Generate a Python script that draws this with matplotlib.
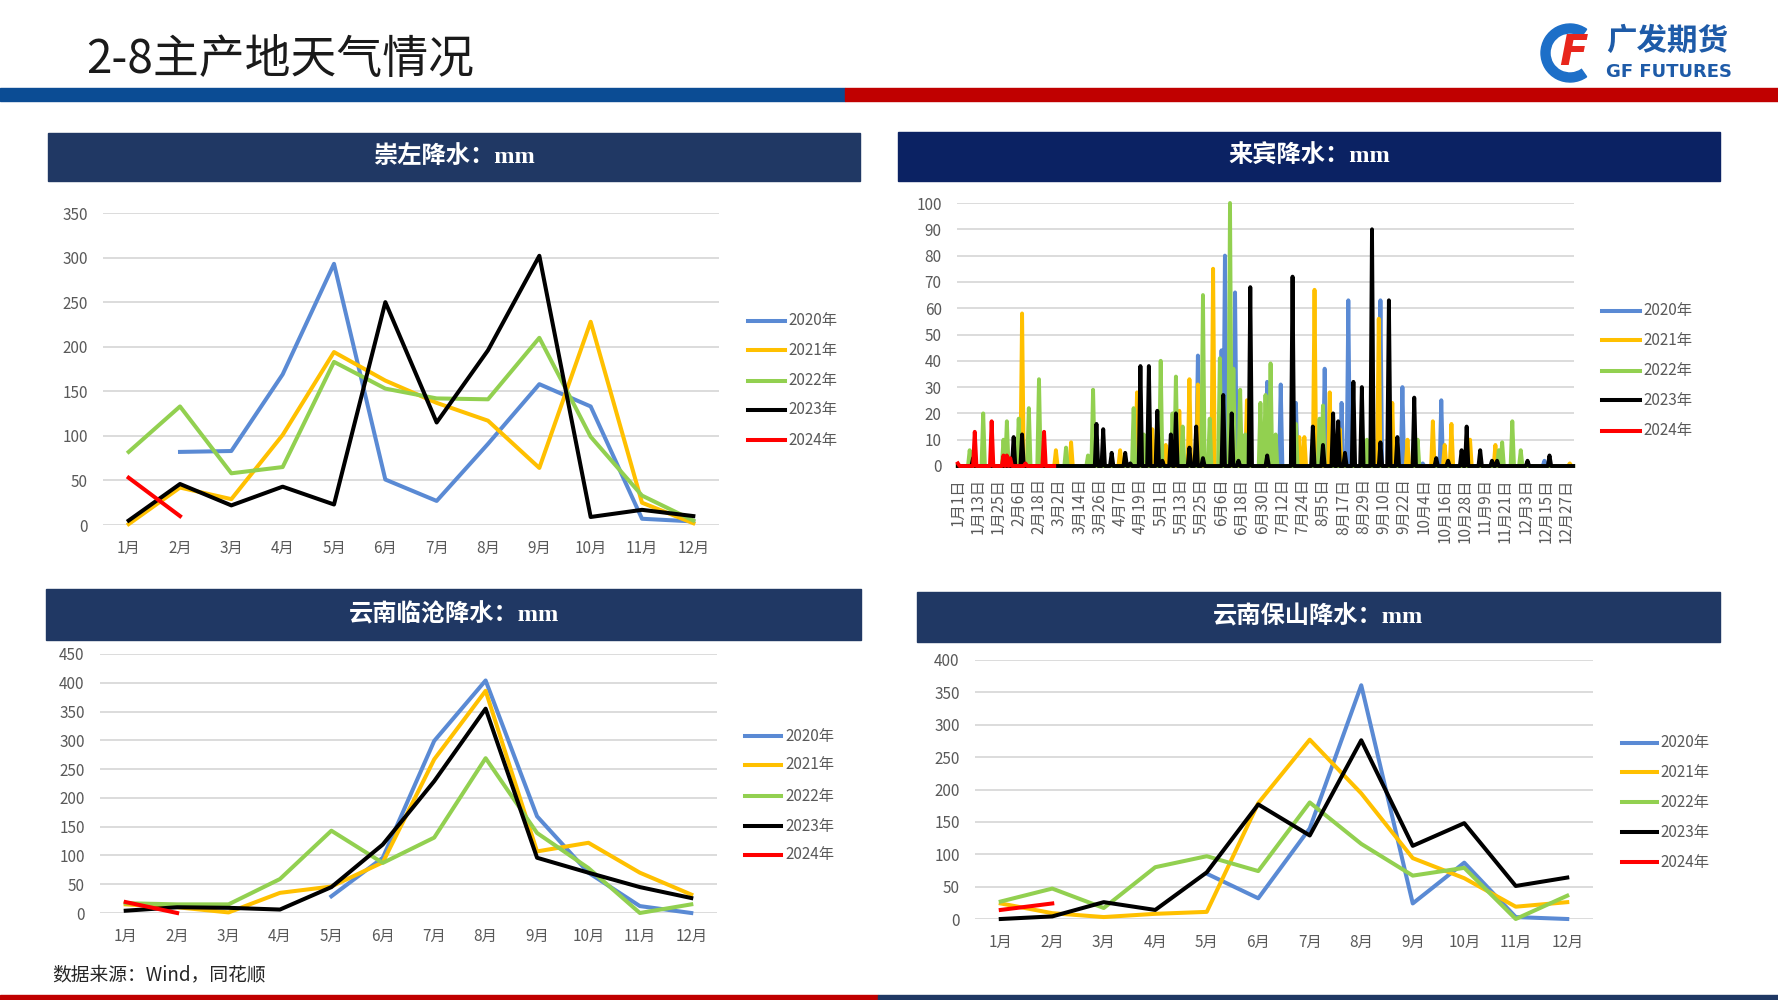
import numpy as np
import matplotlib
matplotlib.use('Agg')
import matplotlib.pyplot as plt
from matplotlib.lines import Line2D
from matplotlib.patches import Rectangle, Wedge

plt.rcParams['font.family'] = ['Noto Sans CJK SC', 'DejaVu Sans']

W, H = 1778, 1000
nan = np.nan

# ---- data ----
years = ['2020年', '2021年', '2022年', '2023年', '2024年']
colors = ['#5A8AD4', '#FFC000', '#92D050', '#000000', '#FF0000']
months = ['1月', '2月', '3月', '4月', '5月', '6月', '7月', '8月', '9月', '10月', '11月', '12月']

# 崇左 monthly (mm)
chongzuo_2020 = [nan, 82, 83, 169, 293, 51, 27, 91, 158, 133, 7, 4]
chongzuo_2021 = [1, 42, 29, 101, 194, 162, 137, 117, 64, 228, 25, 2]
chongzuo_2022 = [82, 133, 58, 65, 183, 153, 142, 141, 210, 99, 33, 5]
chongzuo_2023 = [5, 46, 22, 43, 23, 250, 115, 196, 302, 9, 17, 10]
chongzuo_2024 = [53, 10]

# 云南临沧 monthly (mm)
lincang_2020 = [nan, nan, nan, nan, 29, 96, 299, 404, 168, 70, 12, 0]
lincang_2021 = [15, 10, 1, 35, 46, 88, 267, 386, 107, 122, 70, 32]
lincang_2022 = [17, 15, 15, 59, 143, 87, 131, 269, 139, 78, 0, 15]
lincang_2023 = [4, 10, 9, 6, 45, 119, 229, 355, 96, 70, 45, 26]
lincang_2024 = [19, 0]

# 云南保山 monthly (mm)
baoshan_2020 = [nan, nan, nan, nan, 70, 32, 140, 361, 24, 87, 3, 0]
baoshan_2021 = [24, 9, 3, 8, 11, 179, 277, 194, 94, 63, 19, 26]
baoshan_2022 = [27, 47, 17, 80, 97, 74, 180, 116, 67, 79, 0, 36]
baoshan_2023 = [0, 4, 26, 14, 72, 177, 129, 276, 113, 148, 51, 64]
baoshan_2024 = [14, 24]

# 来宾 daily (mm): rainy days as (day of year, value), all other days 0
day_labels = ['1月1日', '1月13日', '1月25日', '2月6日', '2月18日', '3月2日', '3月14日',
              '3月26日', '4月7日', '4月19日', '5月1日', '5月13日', '5月25日', '6月6日',
              '6月18日', '6月30日', '7月12日', '7月24日', '8月5日', '8月17日', '8月29日',
              '9月10日', '9月22日', '10月4日', '10月16日', '10月28日', '11月9日',
              '11月21日', '12月3日', '12月15日', '12月27日']
n_days = 365
n_days_2024 = 58
laibin_2020 = [(142, 42), (156, 44), (158, 80), (164, 66), (183, 32), (191, 31), (200, 24),
               (217, 37), (227, 24), (231, 63), (250, 63), (263, 30), (275, 1), (286, 25),
               (347, 2)]
laibin_2021 = [(38, 58), (58, 6), (67, 9), (96, 6), (106, 28), (115, 14), (123, 8), (131, 21),
               (137, 33), (142, 31), (151, 75), (171, 25), (202, 11), (205, 11), (211, 67),
               (220, 28), (226, 14), (249, 56), (257, 24), (266, 10), (281, 17), (288, 8),
               (292, 16), (303, 10), (318, 8), (362, 1)]
laibin_2022 = [(7, 6), (15, 20), (27, 10), (29, 17), (36, 18), (42, 22), (48, 33), (64, 7),
               (77, 4), (80, 29), (104, 22), (110, 12), (120, 40), (127, 20), (129, 34),
               (133, 15), (145, 65), (149, 18), (155, 41), (161, 100), (163, 37), (167, 29),
               (170, 12), (179, 24), (182, 27), (185, 39), (188, 12), (200, 16), (214, 18),
               (216, 23), (242, 10), (272, 10), (320, 6), (322, 9), (328, 17), (333, 6)]
laibin_2023 = [(9, 3), (33, 11), (38, 12), (82, 16), (86, 14), (91, 5), (99, 5), (102, 1),
               (108, 38), (113, 38), (118, 21), (121, 2), (126, 12), (129, 20), (137, 7),
               (141, 15), (145, 3), (157, 27), (162, 20), (166, 2), (173, 68), (183, 4),
               (198, 72), (210, 15), (216, 8), (222, 20), (225, 17), (229, 5), (234, 32),
               (239, 30), (245, 90), (250, 9), (255, 63), (260, 11), (270, 26), (283, 3),
               (290, 2), (298, 6), (301, 15), (309, 6), (316, 2), (319, 2), (337, 2), (350, 4)]
laibin_2024 = [(0, 1), (10, 13), (20, 17), (27, 4), (29, 4), (31, 3), (40, 1), (51, 13)]


def daily(peaks, n):
    v = np.zeros(n)
    for d, val in peaks:
        v[d] = val
    return v


TICK = '#595959'
GRID = '#D9D9D9'


def px_rect(x0, y0, x1, y1):
    return [x0 / W, 1 - y1 / H, (x1 - x0) / W, (y1 - y0) / H]


fig = plt.figure(figsize=(W / 100, H / 100), dpi=100)


def bar(x0, y0, x1, y1, color):
    fig.patches.append(Rectangle((x0 / W, 1 - y1 / H), (x1 - x0) / W, (y1 - y0) / H,
                                 transform=fig.transFigure, color=color, zorder=0))


def panel_title(x0, y0, x1, y1, text, color):
    bar(x0, y0, x1, y1, color)
    fig.text((x0 + x1) / 2 / W, 1 - (y0 + y1) / 2 / H, text, color='white', fontsize=17.5,
             fontweight='bold', ha='center', va='center',
             family=['Liberation Serif', 'Noto Sans CJK SC'])


def legend(lx0, lx1, tx, ys):
    for lab, c, y in zip(years, colors, ys):
        fig.add_artist(Line2D([lx0 / W, lx1 / W], [1 - y / H] * 2, color=c, lw=2.9,
                              transform=fig.transFigure))
        fig.text(tx / W, 1 - y / H, lab, fontsize=11, color=TICK, ha='left', va='center')


def style(ax, ymax, step):
    ax.set_ylim(0, ymax)
    ax.set_yticks(np.arange(0, ymax + 1, step))
    ax.yaxis.grid(True, color=GRID, lw=1.3)
    ax.set_axisbelow(True)
    for s in ax.spines.values():
        s.set_visible(False)
    ax.tick_params(axis='both', length=0, labelsize=11, colors=TICK)
    ax.tick_params(axis='y', pad=11)


def monthly(box, series, ymax, step):
    ax = fig.add_axes(px_rect(*box))
    for vals, c in zip(series, colors):
        ax.plot(np.arange(len(vals)), vals, color=c, lw=2.9, clip_on=False,
                solid_joinstyle='round')
    ax.set_xlim(-0.5, 11.5)
    ax.set_xticks(np.arange(12), months)
    style(ax, ymax, step)
    ax.tick_params(axis='x', pad=11)
    return ax


# ---- header ----
fig.text(86 / W, 1 - 60 / H, '2-8主产地天气情况', fontsize=33, color='#1A1A1A',
         ha='left', va='center')
bar(0, 88, 845, 101, '#0B4C94')
bar(845, 88, W, 101, '#C00000')

# logo
lax = fig.add_axes(px_rect(1536, 22, 1604, 84))
lax.set_xlim(0, 68)
lax.set_ylim(0, 62)
lax.set_aspect('equal')
lax.axis('off')
lax.add_patch(Wedge((34, 31), 29, 55, 305, width=9, color='#1D6FC8'))
lax.text(37, 31, 'F', color='#E8261C', fontsize=30, fontweight='bold', style='italic',
         ha='center', va='center', family='DejaVu Sans')
fig.text(1606 / W, 1 - 41 / H, '广发期货', fontsize=22, fontweight='bold', color='#1E5BA8',
         ha='left', va='center')
fig.text(1606 / W, 1 - 72 / H, 'GF FUTURES', fontsize=13, fontweight='bold', color='#1E5BA8',
         ha='left', va='center', family='DejaVu Sans')

# ---- panel titles ----
panel_title(48, 133, 860, 181, '崇左降水：mm', '#203864')
panel_title(898, 132, 1720, 181, '来宾降水：mm', '#0B2263')
panel_title(46, 589, 861, 640, '云南临沧降水：mm', '#203864')
panel_title(917, 592, 1720, 642, '云南保山降水：mm', '#203864')

# ---- 崇左 ----
monthly((103, 213, 719, 525),
        [chongzuo_2020, chongzuo_2021, chongzuo_2022, chongzuo_2023, chongzuo_2024], 350, 50)
legend(748, 785, 788, [321, 350, 381, 410, 440])

# ---- 来宾 ----
ax2 = fig.add_axes(px_rect(957, 203, 1574, 466))
laibin = [daily(laibin_2020, n_days), daily(laibin_2021, n_days), daily(laibin_2022, n_days),
          daily(laibin_2023, n_days), daily(laibin_2024, n_days_2024)]
for vals, c in zip(laibin, colors):
    ax2.plot(np.arange(len(vals)), vals, color=c, lw=2.8, clip_on=False,
             solid_joinstyle='round')
ax2.set_xlim(-0.5, n_days - 0.5)
ax2.set_xticks(np.arange(0, n_days, 12), day_labels, rotation=90)
style(ax2, 100, 10)
ax2.tick_params(axis='x', pad=9, labelsize=11)
legend(1602, 1640, 1643, [311, 340, 371, 400, 431])

# ---- 云南临沧 ----
monthly((100, 654, 717, 913),
        [lincang_2020, lincang_2021, lincang_2022, lincang_2023, lincang_2024], 450, 50)
legend(745, 781, 785, [736, 765, 796, 826, 855])

# ---- 云南保山 ----
monthly((975, 660, 1593, 919),
        [baoshan_2020, baoshan_2021, baoshan_2022, baoshan_2023, baoshan_2024], 400, 50)
legend(1622, 1657, 1660, [743, 772, 802, 832, 862])

# ---- footer ----
fig.text(52 / W, 1 - 975 / H, '数据来源：Wind，同花顺', fontsize=13.5, color='#262626',
         ha='left', va='center')
bar(0, 995, 878, H, '#C00000')
bar(878, 995, W, H, '#1F3864')

fig.savefig('out.png', dpi=100)
